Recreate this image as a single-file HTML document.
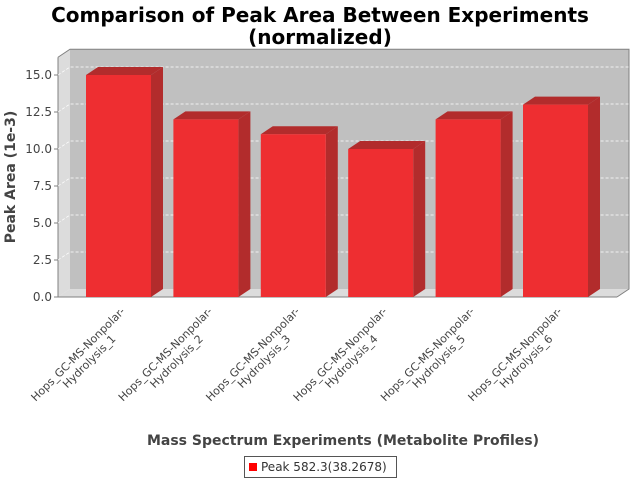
<!DOCTYPE html>
<html><head><meta charset="utf-8"><style>
body{margin:0;background:#fff}
svg{display:block;font-family:"DejaVu Sans","Liberation Sans",sans-serif}
</style></head><body>
<svg id="c" width="640" height="480">
<text x="320" y="22" text-anchor="middle" font-size="20" font-weight="bold" fill="#000">Comparison of Peak Area Between Experiments</text>
<text x="320" y="44" text-anchor="middle" font-size="20" font-weight="bold" fill="#000">(normalized)</text>
<g id="plot"></g>
<text transform="translate(15,177) rotate(-90)" text-anchor="middle" font-size="14" font-weight="bold" fill="#444">Peak Area (1e-3)</text>
<text x="343" y="445" text-anchor="middle" font-size="14" font-weight="bold" fill="#444">Mass Spectrum Experiments (Metabolite Profiles)</text>
<g>
<rect x="244.5" y="456.5" width="152" height="21" fill="#fff" stroke="#555"/>
<rect x="249" y="463" width="8" height="8" fill="#f00"/>
<text x="261" y="471" font-size="12" fill="#333">Peak 582.3(38.2678)</text>
</g>
</svg>
<script>
const categories=["Hops_GC-MS-Nonpolar-Hydrolysis_1","Hops_GC-MS-Nonpolar-Hydrolysis_2","Hops_GC-MS-Nonpolar-Hydrolysis_3","Hops_GC-MS-Nonpolar-Hydrolysis_4","Hops_GC-MS-Nonpolar-Hydrolysis_5","Hops_GC-MS-Nonpolar-Hydrolysis_6"];
const values=[15.0,12.0,11.0,10.0,12.0,13.0];
const ticks=[0,2.5,5,7.5,10,12.5,15];
const NS="http://www.w3.org/2000/svg";
const g=document.getElementById('plot');
const X0=58,X1=617,Y0=297,DX=12,DY=8,UNIT=14.8;
const y=v=>Y0-v*UNIT;
const xc=i=>118.5+i*87.4;
function mk(t,a){const e=document.createElementNS(NS,t);for(const k in a)e.setAttribute(k,a[k]);g.appendChild(e);return e;}
let e;
e=mk('polygon',{points:`${X0},${Y0} ${X0},${y(16.2)} ${X0+DX},${y(16.2)-DY} ${X0+DX},${Y0-DY}`,fill:'#dcdcdc'});


e=mk('polygon',{points:`${X0},${Y0} ${X0+DX},${Y0-DY} ${X1+DX},${Y0-DY} ${X1},${Y0}`,fill:'#dcdcdc'});


e=mk('rect',{x:X0+DX,y:y(16.2)-DY,width:X1-X0,height:Y0-y(16.2),fill:'#c0c0c0'});


mk('polyline',{points:`${X0},${y(16.2)} ${X0+DX},${y(16.2)-DY} ${X1+DX},${y(16.2)-DY} ${X1+DX},${Y0-DY} ${X1},${Y0}`,fill:'none',stroke:'#808080'});
mk('polyline',{points:`${X0},${y(16.2)} ${X0},${Y0} ${X1},${Y0}`,fill:'none',stroke:'#808080'});
ticks.forEach(t=>{
 if(t>0){e=mk('polyline',{points:`${X0},${y(t)} ${X0+DX},${y(t)-DY} ${X1+DX},${y(t)-DY}`,fill:'none',stroke:'#fff','stroke-dasharray':'3,2','stroke-width':0.7});
 
 }
 mk('line',{x1:X0-4,x2:X0,y1:y(t),y2:y(t),stroke:'#808080'});
 e=mk('text',{x:X0-6,y:y(t)+4,'text-anchor':'end','font-size':12,fill:'#444'});
 e.textContent=t.toFixed(1);
 
 
});
const BW=65;
values.forEach((v,i)=>{
 const l=xc(i)-BW/2,r=l+BW,t=y(v);
 e=mk('polygon',{points:`${l},${t} ${l+DX},${t-DY} ${r+DX},${t-DY} ${r},${t}`,fill:'#b22c2c'});
 
 
 e=mk('polygon',{points:`${r},${t} ${r+DX},${t-DY} ${r+DX},${Y0-DY} ${r},${Y0}`,fill:'#b22c2c'});
 
 
 e=mk('rect',{x:l,y:t,width:BW,height:Y0-t,fill:'#ee2e31'});
 
 
 const parts=categories[i].split('Nonpolar-');
 const tg=mk('g',{transform:`translate(${xc(i)+7},312) rotate(-45)`});
 
 
 const t1=document.createElementNS(NS,'text');
 t1.setAttribute('text-anchor','end');t1.setAttribute('font-size','11');t1.setAttribute('fill','#444');
 t1.textContent=parts[0]+'Nonpolar-';tg.appendChild(t1);
 const t2=document.createElementNS(NS,'text');
 t2.setAttribute('text-anchor','end');t2.setAttribute('font-size','11');t2.setAttribute('fill','#444');
 t2.setAttribute('x','-26');t2.setAttribute('y','13');
 t2.textContent=parts[1];tg.appendChild(t2);
});
</script>
</body></html>
